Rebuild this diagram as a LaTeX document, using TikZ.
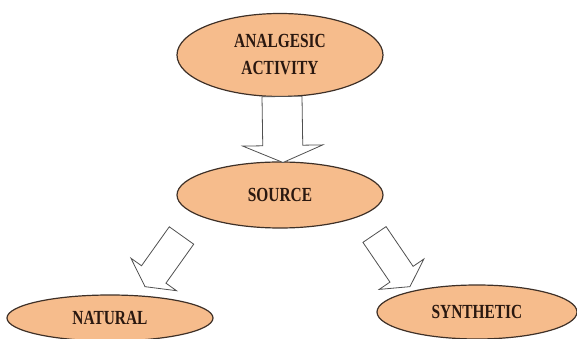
\documentclass[tikz,border=0pt]{standalone}
\usepackage{fontspec}
\newfontfamily\labfont[FakeStretch=0.77]{Liberation Serif}
\usetikzlibrary{shapes.geometric,calc}
\definecolor{peach}{HTML}{F6BC8C}
\definecolor{edgebrown}{HTML}{3E3027}
\definecolor{inkbrown}{HTML}{2A1810}
\definecolor{arrowgray}{HTML}{505050}
\tikzset{
  oval/.style={ellipse, draw=edgebrown, line width=1.2pt, fill=peach, inner sep=0pt,
    text=inkbrown, font=\labfont\bfseries\fontsize{20}{27}\selectfont, align=center},
  barrow/.style={draw=arrowgray, line width=0.8pt, fill=white, line join=miter}
}
\newcommand\blockarrow[5]{%
  \path let \p1=($(#2)-(#1)$) in \pgfextra{%
    \pgfmathsetmacro\baang{atan2(\y1,\x1)}\xdef\baang{\baang}%
    \pgfmathsetmacro\balen{veclen(\x1,\y1)}\xdef\balen{\balen}};
  \begin{scope}[shift={(#1)},rotate=\baang]
    \draw[barrow] (0,-#3) -- ({\balen-#5},-#3) -- ({\balen-#5},-#4) -- (\balen,0)
      -- ({\balen-#5},#4) -- ({\balen-#5},#3) -- (0,#3) -- cycle;
  \end{scope}}
\begin{document}
\begin{tikzpicture}[x=1pt,y=1pt]
\useasboundingbox (0,0) rectangle (577,339);
\node[oval, minimum width=206pt, minimum height=83pt] (top) at (280,284) {ANALGESIC\\ACTIVITY};
\node[oval, minimum width=206pt, minimum height=66pt] (source) at (280,144) {SOURCE};
\node[oval, minimum width=206pt, minimum height=46pt] (natural) at (110,21) {NATURAL};
\node[oval, minimum width=200pt, minimum height=54pt] (synthetic) at (477,27) {SYNTHETIC};
\coordinate (a1s) at (282,242.5);
\coordinate (a1e) at (283,176.5);
\coordinate (a2s) at (181.5,103.5);
\coordinate (a2e) at (145,52.3);
\coordinate (a3s) at (374.5,104.5);
\coordinate (a3e) at (410,52.3);
\blockarrow{a1s}{a1e}{20}{40}{17}
\blockarrow{a2s}{a2e}{15}{28}{15}
\blockarrow{a3s}{a3e}{14}{27}{15}
\end{tikzpicture}
\end{document}
